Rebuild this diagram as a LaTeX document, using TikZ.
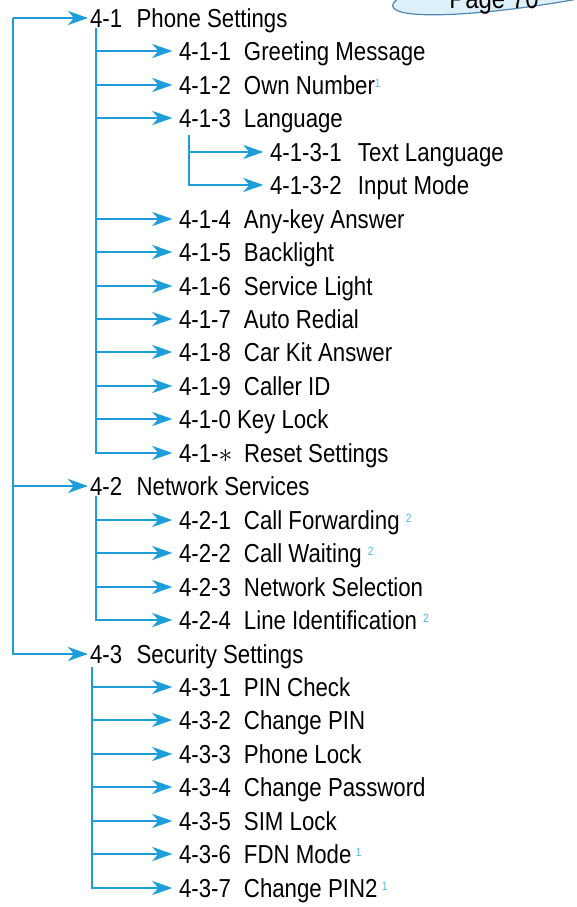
\documentclass[tikz,border=0pt]{standalone}
\usepackage{fontspec}
\setmainfont{Liberation Sans}[FakeStretch=0.855]
\usetikzlibrary{arrows.meta,calc}
\definecolor{menuBlue} {HTML}{1E9ED8}
\definecolor{noteBlue} {HTML}{4DB8E6}
\definecolor{tagFill}  {HTML}{DDF0F9}
\definecolor{tagEdge}  {HTML}{4E88B2}
\newcommand{\secno}[1]{\makebox[35pt][l]{#1}}
\newcommand{\itemno}[1]{\makebox[48.75pt][l]{#1}}
\newcommand{\subno}[1]{\makebox[66pt][l]{#1}}
\newcommand{\fnote}[1]{\raisebox{5pt}{\fontsize{9}{9}\selectfont\color{noteBlue}#1}}
\tikzset{
  font=\fontsize{19.5}{22}\selectfont,
  arrow/.style={-{Stealth[length=15pt,width=10.5pt,inset=4.5pt]},draw=menuBlue,line width=2.1pt,shorten >=5pt},
  entry/.style={anchor=west,inner sep=0pt,outer sep=0pt,text height=14pt,text depth=0pt},
  pagetag/.style={draw=tagEdge,fill=tagFill,line width=.9pt},
}

\begin{document}
\begin{tikzpicture}[x=.75pt,y=-.75pt]

\useasboundingbox (0,0) rectangle (576,907);

% page reference bubble, cut by the top edge
\draw[pagetag,rotate around={10:(570,-25)}] (570,-25) ellipse [x radius=180,y radius=25];
\node[anchor=base,font=\fontsize{21}{24}\selectfont] (page70) at (494,8) {Page 70};

\coordinate (root) at (13,18);

\node[entry] (s41) at (90,18) {\secno{4-1}Phone Settings};
\node[entry] (i411) at (179,51) {\itemno{4-1-1}Greeting Message};
\node[entry] (i412) at (179,85) {\itemno{4-1-2}Own Number\fnote{1}};
\node[entry] (i413) at (179,118) {\itemno{4-1-3}Language};
\node[entry] (i4131) at (270,152) {\subno{4-1-3-1}Text Language};
\node[entry] (i4132) at (270,185) {\subno{4-1-3-2}Input Mode};
\node[entry] (i414) at (179,219) {\itemno{4-1-4}Any-key Answer};
\node[entry] (i415) at (179,252) {\itemno{4-1-5}Backlight};
\node[entry] (i416) at (179,286) {\itemno{4-1-6}Service Light};
\node[entry] (i417) at (179,319) {\itemno{4-1-7}Auto Redial};
\node[entry] (i418) at (179,352) {\itemno{4-1-8}Car Kit Answer};
\node[entry] (i419) at (179,386) {\itemno{4-1-9}Caller ID};
\node[entry] (i410) at (179,419) {4-1-0 Key Lock};
\node[entry] (i41s) at (179,453) {\itemno{4-1-$\ast$}Reset Settings};

\node[entry] (s42) at (90,486) {\secno{4-2}Network Services};
\node[entry] (i421) at (179,520) {\itemno{4-2-1}Call Forwarding \fnote{2}};
\node[entry] (i422) at (179,553) {\itemno{4-2-2}Call Waiting \fnote{2}};
\node[entry] (i423) at (179,587) {\itemno{4-2-3}Network Selection};
\node[entry] (i424) at (179,620) {\itemno{4-2-4}Line Identification \fnote{2}};

\node[entry] (s43) at (90,654) {\secno{4-3}Security Settings};
\node[entry] (i431) at (179,687) {\itemno{4-3-1}PIN Check};
\node[entry] (i432) at (179,720) {\itemno{4-3-2}Change PIN};
\node[entry] (i433) at (179,754) {\itemno{4-3-3}Phone Lock};
\node[entry] (i434) at (179,787) {\itemno{4-3-4}Change Password};
\node[entry] (i435) at (179,821) {\itemno{4-3-5}SIM Lock};
\node[entry] (i436) at (179,854) {\itemno{4-3-6}FDN Mode\,\fnote{1}};
\node[entry] (i437) at (179,888) {\itemno{4-3-7}Change PIN2\,\fnote{1}};

% trunk
\draw[arrow,shorten >=1.5pt] (root) -- (s41);
\draw[arrow,shorten >=1.5pt] (root) |- (s42);
\draw[arrow,shorten >=1.5pt] (root) |- (s43);

% 4-1 branch
\coordinate (sp41) at ($(s41.west)+(6,10)$);
\draw[arrow] (sp41) |- (i411);
\draw[arrow] (sp41) |- (i412);
\draw[arrow] (sp41) |- (i413);
\draw[arrow] (sp41) |- (i414);
\draw[arrow] (sp41) |- (i415);
\draw[arrow] (sp41) |- (i416);
\draw[arrow] (sp41) |- (i417);
\draw[arrow] (sp41) |- (i418);
\draw[arrow] (sp41) |- (i419);
\draw[arrow] (sp41) |- (i410);
\draw[arrow] (sp41) |- (i41s);

\coordinate (sp413) at ($(i413.west)+(10,17)$);
\draw[arrow] (sp413) |- (i4131);
\draw[arrow] (sp413) |- (i4132);

% 4-2 branch
\coordinate (sp42) at ($(s42.west)+(6,10)$);
\draw[arrow] (sp42) |- (i421);
\draw[arrow] (sp42) |- (i422);
\draw[arrow] (sp42) |- (i423);
\draw[arrow] (sp42) |- (i424);

% 4-3 branch
\coordinate (sp43) at ($(s43.west)+(2,13)$);
\draw[arrow] (sp43) |- (i431);
\draw[arrow] (sp43) |- (i432);
\draw[arrow] (sp43) |- (i433);
\draw[arrow] (sp43) |- (i434);
\draw[arrow] (sp43) |- (i435);
\draw[arrow] (sp43) |- (i436);
\draw[arrow] (sp43) |- (i437);

\end{tikzpicture}
\end{document}
